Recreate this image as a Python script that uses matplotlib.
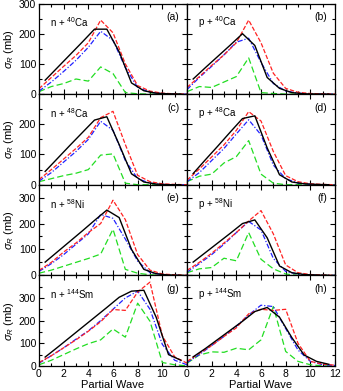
import numpy as np
import matplotlib
matplotlib.use("Agg")
import matplotlib.pyplot as plt
from matplotlib.ticker import MultipleLocator, FixedLocator

plt.rcParams['font.family'] = ['Liberation Sans', 'DejaVu Sans']
plt.rcParams['mathtext.fontset'] = 'custom'
plt.rcParams['mathtext.rm'] = 'Liberation Sans'
plt.rcParams['mathtext.it'] = 'Liberation Sans:italic'
plt.rcParams['mathtext.sf'] = 'Liberation Sans'

# partial waves
x_int = np.arange(0, 13)          # red / blue / green curves
x_half = np.arange(0.5, 12.0, 1)  # black curve

# (a) n + 40Ca
black_a = [46, 88, 130, 172, 215, 215, 140, 37, 11, 3, 1, 0]
red_a = [18, 55, 92, 128, 170, 245, 203, 100, 28, 10, 3, 1, 0]
blue_a = [10, 40, 75, 112, 155, 208, 178, 88, 22, 6, 2, 0, 0]
green_a = [8, 25, 35, 50, 43, 90, 68, 5, 1, 0, 0, 0, 0]
# (b) p + 40Ca
black_b = [50, 88, 125, 162, 200, 161, 55, 19, 5, 1, 0, 0]
red_b = [22, 58, 95, 130, 170, 245, 170, 69, 19, 6, 2, 1, 0]
blue_b = [15, 55, 92, 130, 172, 185, 105, 35, 10, 3, 1, 0, 0]
green_b = [8, 25, 22, 40, 58, 120, 5, 2, 0, 0, 0, 0, 0]
# (c) n + 48Ca
black_c = [44, 87, 130, 172, 214, 225, 133, 36, 9, 2, 0, 0]
red_c = [17, 50, 85, 120, 157, 222, 243, 133, 31, 10, 3, 1, 0]
blue_c = [12, 40, 75, 110, 150, 210, 180, 80, 20, 5, 1, 0, 0]
green_c = [10, 20, 30, 38, 50, 98, 102, 5, 0, 0, 0, 0, 0]
# (d) p + 48Ca
black_d = [37, 83, 128, 174, 219, 228, 122, 33, 9, 3, 1, 0]
red_d = [15, 52, 92, 132, 180, 242, 211, 110, 30, 10, 3, 1, 0]
blue_d = [10, 40, 80, 120, 168, 215, 165, 65, 20, 5, 1, 0, 0]
green_d = [10, 28, 35, 72, 93, 146, 35, 5, 0, 0, 0, 0, 0]
# (e) n + 58Ni
black_e = [51, 91, 131, 171, 212, 252, 223, 100, 23, 6, 1, 0]
red_e = [19, 50, 90, 125, 165, 200, 290, 215, 80, 20, 5, 2, 0]
blue_e = [15, 45, 80, 120, 160, 235, 220, 140, 55, 10, 3, 0, 0]
green_e = [8, 20, 35, 50, 65, 82, 178, 23, 8, 2, 0, 0, 0]
# (f) p + 58Ni
black_f = [51, 88, 125, 162, 200, 214, 145, 36, 10, 3, 1, 0]
red_f = [19, 50, 85, 125, 165, 210, 250, 160, 40, 10, 3, 1, 0]
blue_f = [12, 45, 80, 120, 165, 208, 175, 65, 15, 4, 1, 0, 0]
green_f = [10, 25, 30, 66, 56, 165, 62, 25, 5, 0, 0, 0, 0]
# (g) n + 144Sm
black_g = [39, 82, 126, 170, 214, 258, 303, 330, 334, 215, 50, 25]
red_g = [15, 45, 80, 115, 153, 195, 249, 245, 326, 370, 133, 40, 12]
blue_g = [12, 45, 80, 118, 155, 200, 250, 300, 330, 250, 95, 25, 5]
green_g = [5, 25, 50, 75, 98, 115, 163, 127, 277, 197, 15, 5, 0]
# (h) p + 144Sm
black_h = [40, 77, 117, 157, 197, 240, 258, 215, 125, 48, 20, 7]
red_h = [20, 55, 90, 130, 168, 230, 250, 245, 250, 100, 20, 8, 3]
blue_h = [15, 50, 90, 130, 175, 225, 268, 262, 165, 70, 20, 5, 2]
green_h = [12, 48, 62, 60, 78, 71, 115, 262, 64, 20, 5, 0, 0]

panels = [
    ("n + $^{40}$Ca", "(a)", black_a, red_a, blue_a, green_a),
    ("p + $^{40}$Ca", "(b)", black_b, red_b, blue_b, green_b),
    ("n + $^{48}$Ca", "(c)", black_c, red_c, blue_c, green_c),
    ("p + $^{48}$Ca", "(d)", black_d, red_d, blue_d, green_d),
    ("n + $^{58}$Ni", "(e)", black_e, red_e, blue_e, green_e),
    ("p + $^{58}$Ni", "(f)", black_f, red_f, blue_f, green_f),
    ("n + $^{144}$Sm", "(g)", black_g, red_g, blue_g, green_g),
    ("p + $^{144}$Sm", "(h)", black_h, red_h, blue_h, green_h),
]
y_tops = [300, 300, 350, 400]

W, H = 343, 391
fig = plt.figure(figsize=(W / 100, H / 100), dpi=100)

left0, col_w = 39, 148
top0, row_h = 3.5, 90.6

for i, (name, tag, bk, rd, bl, gr) in enumerate(panels):
    row, col = divmod(i, 2)
    x0 = left0 + col * col_w
    y0 = top0 + row * row_h
    ax = fig.add_axes([x0 / W, 1 - (y0 + row_h) / H, col_w / W, row_h / H])

    ax.plot(x_int, gr, color='#22dd22', lw=0.9, dashes=(5, 2.5))
    ax.plot(x_int, bl, color='#2222ff', lw=0.9, dashes=(4, 1.5, 1, 1.5))
    ax.plot(x_int, rd, color='#ff2222', lw=0.9, dashes=(3.5, 1.5))
    ax.plot(x_half, bk, color='black', lw=1.0)

    ax.set_xlim(0, 12)
    ax.set_ylim(0, y_tops[row])

    ax.xaxis.set_major_locator(MultipleLocator(2))
    ax.xaxis.set_minor_locator(MultipleLocator(1))
    ax.yaxis.set_major_locator(FixedLocator([0, 100, 200, 300, 400]))
    ax.yaxis.set_minor_locator(MultipleLocator(50))
    ax.tick_params(which='both', direction='in', top=True, right=True,
                   labelsize=7.5, pad=2, width=0.8)
    ax.tick_params(which='major', length=3.5)
    ax.tick_params(which='minor', length=2)
    for s in ax.spines.values():
        s.set_linewidth(0.9)

    if col == 0:
        ax.set_ylabel(r"$\sigma_R$ (mb)", fontsize=8, labelpad=2)
        if row == 1:
            ax.set_yticks([0, 100, 200])
            ax.yaxis.set_major_locator(FixedLocator([0, 100, 200, 300]))
            ax.set_yticklabels(['0', '100', '200', ''])
        elif row == 3:
            ax.set_yticklabels(['0', '100', '200', '300', ''])
    else:
        ax.tick_params(labelleft=False)

    if row == 3:
        ax.set_xlabel("Partial Wave", fontsize=8, labelpad=1)
        if col == 0:
            ax.set_xticks([0, 2, 4, 6, 8, 10, 12])
            ax.set_xticklabels(['0', '2', '4', '6', '8', '10', ''])
    else:
        ax.tick_params(labelbottom=False)

    ax.text(0.075, 0.79, name, transform=ax.transAxes, fontsize=7,
            ha='left', va='center')
    ax.text(0.95, 0.85, tag, transform=ax.transAxes, fontsize=7.5,
            ha='right', va='center')

fig.savefig("out.png", dpi=100)
